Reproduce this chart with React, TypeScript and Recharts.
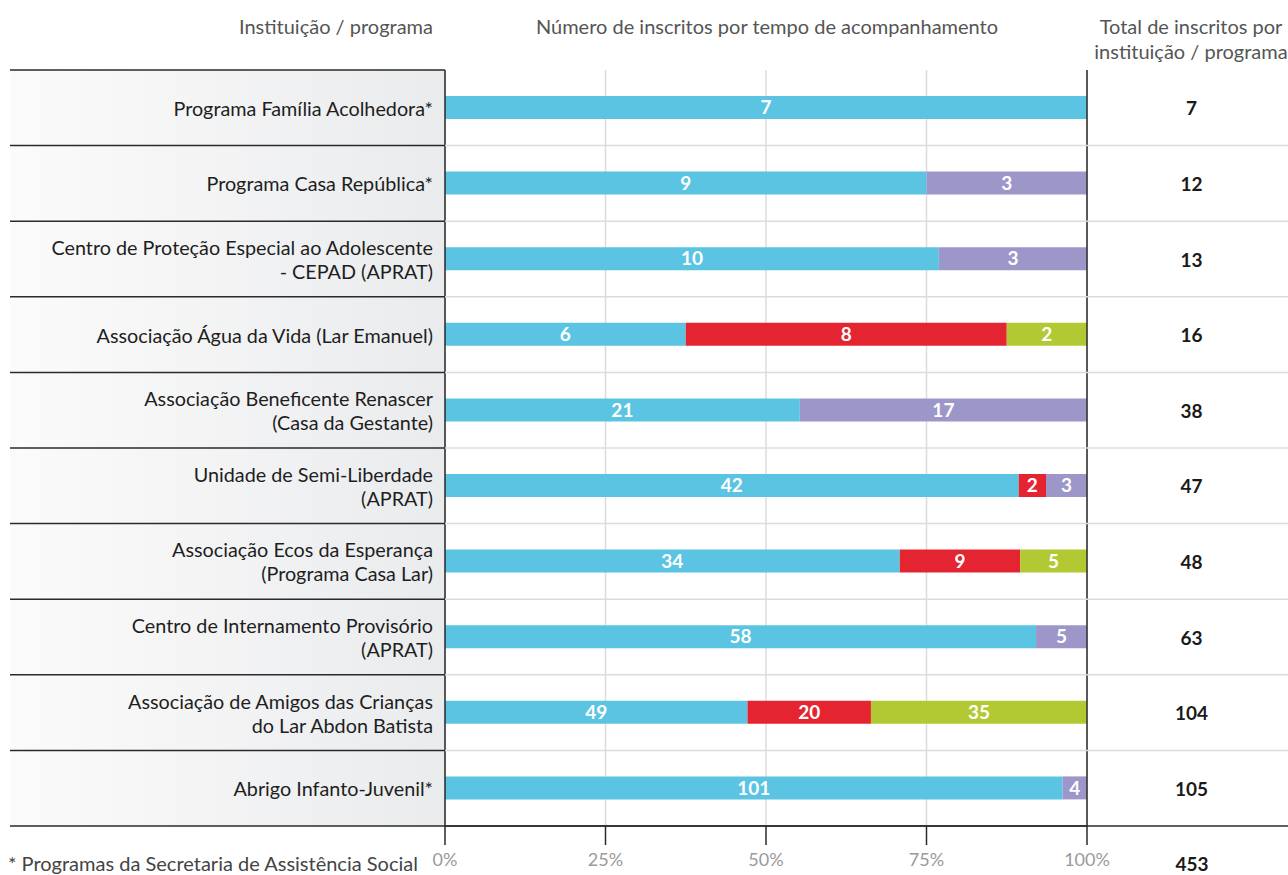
import React from 'react';
import { BarChart, Bar, XAxis, YAxis, CartesianGrid, ReferenceLine, LabelList } from 'recharts';

const institutions = [
  'Programa Família Acolhedora*',
  'Programa Casa República*',
  'Centro de Proteção Especial ao Adolescente\n- CEPAD (APRAT)',
  'Associação Água da Vida (Lar Emanuel)',
  'Associação Beneficente Renascer\n(Casa da Gestante)',
  'Unidade de Semi-Liberdade\n(APRAT)',
  'Associação Ecos da Esperança\n(Programa Casa Lar)',
  'Centro de Internamento Provisório\n(APRAT)',
  'Associação de Amigos das Crianças\ndo Lar Abdon Batista',
  'Abrigo Infanto-Juvenil*',
];
const totals = [7, 12, 13, 16, 38, 47, 48, 63, 104, 105];
const blueValues = [7, 9, 10, 6, 21, 42, 34, 58, 49, 101];
const redValues = [0, 0, 0, 8, 0, 2, 9, 0, 20, 0];
const greenValues = [0, 0, 0, 2, 0, 0, 5, 0, 35, 0];
const purpleValues = [0, 3, 3, 0, 17, 3, 0, 5, 0, 4];
const xTicks = [0, 0.25, 0.5, 0.75, 1];
const grandTotal = 453;
const footnote = '* Programas da Secretaria de Assistência Social';

const data = institutions.map((name, i) => ({
  name,
  blue: blueValues[i],
  red: redValues[i],
  green: greenValues[i],
  purple: purpleValues[i],
}));

const W = 1288;
const H = 875;
const LEFT = 10;
const PLOT_L = 445;
const PLOT_T = 70;
const BOTTOM_H = 49;
const RIGHT_W = 201;
const FONT = 'Lato, "Open Sans", sans-serif';
const DARK = '#2a2a2a';
const GRID = '#dcdcdc';

const hideZero = (v: any) => (v ? v : '');

function InstitutionTick(props: any) {
  const { y, payload, index, visibleTicksCount } = props;
  const half = payload.offset || 37.8;
  const lines = String(payload.value).split('\n');
  const last = index === visibleTicksCount - 1;
  return (
    <g>
      {index === 0 && (
        <line x1={LEFT} x2={PLOT_L} y1={y - half} y2={y - half} stroke={DARK} strokeWidth={1.5} />
      )}
      {!last && (
        <>
          <line x1={PLOT_L} x2={W} y1={y + half} y2={y + half} stroke={GRID} strokeWidth={1.5} />
          <line x1={LEFT} x2={PLOT_L} y1={y + half} y2={y + half} stroke={DARK} strokeWidth={1.5} />
        </>
      )}
      {last && <line x1={LEFT} x2={W} y1={y + half} y2={y + half} stroke={DARK} strokeWidth={1.5} />}
      <text
        x={PLOT_L - 12}
        y={y - ((lines.length - 1) * 24) / 2}
        textAnchor="end"
        fill="#1e1e1e"
        fontSize={19.8}
        fontFamily={FONT}
        dominantBaseline="central"
      >
        {lines.map((l, i) => (
          <tspan key={i} x={PLOT_L - 12} dy={i === 0 ? 0 : 24}>
            {l}
          </tspan>
        ))}
      </text>
    </g>
  );
}

function TotalTick(props: any) {
  const { y, index } = props;
  return (
    <text
      x={W - RIGHT_W / 2 + 4}
      y={y}
      textAnchor="middle"
      dominantBaseline="central"
      fill="#1a1a1a"
      fontWeight="bold"
      fontSize={19}
      fontFamily={FONT}
    >
      {totals[index]}
    </text>
  );
}

const headerStyle: React.CSSProperties = {
  position: 'absolute',
  fontFamily: FONT,
  fontSize: 20,
  color: '#555',
  lineHeight: '25px',
  whiteSpace: 'nowrap',
};

const barLabel = {
  position: 'center' as const,
  fill: '#fff',
  fontWeight: 'bold',
  fontSize: 19,
  fontFamily: FONT,
  formatter: hideZero,
};

export default function App() {
  return (
    <div style={{ position: 'absolute', left: 0, top: 0, width: W, height: H, background: '#fff', overflow: 'hidden' }}>
      <div
        style={{
          position: 'absolute',
          left: LEFT,
          top: PLOT_T,
          width: PLOT_L - LEFT,
          height: H - PLOT_T - BOTTOM_H,
          background: 'linear-gradient(to right, #fbfbfb, #eaebed)',
        }}
      />
      <div style={{ ...headerStyle, right: W - 433, top: 14, textAlign: 'right' }}>Instituição / programa</div>
      <div style={{ ...headerStyle, left: 767, top: 14, transform: 'translateX(-50%)' }}>
        Número de inscritos por tempo de acompanhamento
      </div>
      <div style={{ ...headerStyle, left: 1191, top: 14, transform: 'translateX(-50%)', textAlign: 'center' }}>
        Total de inscritos por
        <br />
        instituição / programa
      </div>
      <div style={{ position: 'absolute', left: 0, top: 0 }}>
        <BarChart
          width={W}
          height={H}
          data={data}
          layout="vertical"
          stackOffset="expand"
          barSize={23}
          margin={{ top: PLOT_T, right: 0, bottom: 0, left: LEFT }}
        >
          <CartesianGrid horizontal={false} stroke={GRID} strokeWidth={1.5} />
          <XAxis
            type="number"
            domain={[0, 1]}
            ticks={xTicks}
            tickFormatter={(v: number) => `${Math.round(v * 100)}%`}
            height={BOTTOM_H}
            axisLine={{ stroke: DARK, strokeWidth: 1.5 }}
            tickLine={{ stroke: DARK, strokeWidth: 1.5 }}
            tickSize={19}
            tickMargin={8}
            tick={{ fill: '#9a9a9a', fontSize: 18, fontFamily: FONT }}
          />
          <YAxis
            type="category"
            dataKey="name"
            width={PLOT_L - LEFT}
            axisLine={{ stroke: DARK, strokeWidth: 1.5 }}
            tickLine={false}
            interval={0}
            tick={<InstitutionTick />}
          />
          <YAxis
            yAxisId="total"
            type="category"
            dataKey="name"
            orientation="right"
            width={RIGHT_W}
            axisLine={false}
            tickLine={false}
            interval={0}
            tick={<TotalTick />}
          />
          <ReferenceLine x={1} stroke={DARK} strokeWidth={1.5} />
          <Bar dataKey="blue" stackId="a" fill="#5bc4e2" isAnimationActive={false}>
            <LabelList dataKey="blue" {...barLabel} />
          </Bar>
          <Bar dataKey="red" stackId="a" fill="#e52431" isAnimationActive={false}>
            <LabelList dataKey="red" {...barLabel} />
          </Bar>
          <Bar dataKey="green" stackId="a" fill="#b3c934" isAnimationActive={false}>
            <LabelList dataKey="green" {...barLabel} />
          </Bar>
          <Bar dataKey="purple" stackId="a" fill="#9d96c9" isAnimationActive={false}>
            <LabelList dataKey="purple" {...barLabel} />
          </Bar>
        </BarChart>
      </div>
      <div style={{ ...headerStyle, left: 8, top: 851, color: '#444' }}>{footnote}</div>
      <div
        style={{
          ...headerStyle,
          left: 1192,
          top: 851,
          transform: 'translateX(-50%)',
          color: '#1a1a1a',
          fontWeight: 'bold',
          fontSize: 19,
        }}
      >
        {grandTotal}
      </div>
    </div>
  );
}
